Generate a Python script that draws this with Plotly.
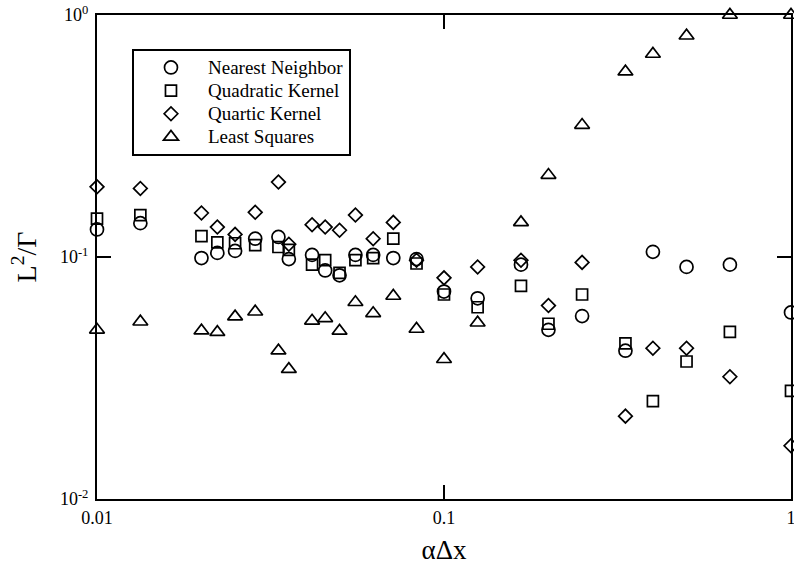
import plotly.graph_objects as go

# alpha*dx values (columns of the data)
alpha_dx = [0.01, 1/75, 1/50, 1/45, 1/40, 1/35, 1/30, 1/28, 1/24, 1/22, 1/20,
            1/18, 1/16, 1/14, 1/12, 1/10, 1/8, 1/6, 1/5, 1/4, 1/3, 0.4, 1/2, 2/3, 1.0]

nearest_neighbor = [0.130, 0.138, 0.099, 0.104, 0.106, 0.119, 0.121, 0.098, 0.102, 0.088, 0.084,
                    0.102, 0.102, 0.099, 0.098, 0.072, 0.0675, 0.093, 0.050, 0.057, 0.041, 0.105,
                    0.091, 0.093, 0.059]
quadratic_kernel = [0.144, 0.149, 0.122, 0.115, 0.114, 0.112, 0.110, 0.107, 0.093, 0.097, 0.086,
                    0.097, 0.099, 0.119, 0.094, 0.070, 0.062, 0.076, 0.053, 0.070, 0.044, 0.0254,
                    0.037, 0.049, 0.028]
quartic_kernel = [0.195, 0.192, 0.152, 0.133, 0.124, 0.153, 0.204, 0.113, 0.136, 0.133, 0.129,
                  0.149, 0.119, 0.139, 0.097, 0.082, 0.091, 0.097, 0.063, 0.095, 0.022, 0.042,
                  0.042, 0.032, 0.0166]
least_squares = [0.050, 0.054, 0.0496, 0.0489, 0.0567, 0.0594, 0.041, 0.0344, 0.0545, 0.0558, 0.0495,
                 0.065, 0.0585, 0.069, 0.0504, 0.0378, 0.0535, 0.139, 0.218, 0.351, 0.583, 0.69,
                 0.821, 1.0, 1.0]

x_tickvals = [0.01, 0.1, 1]
x_ticktext = ["0.01", "0.1", "1"]
y_tickvals = [0.01, 0.1, 1]
y_ticktext = ["10<sup>-2</sup>", "10<sup>-1</sup>", "10<sup>0</sup>"]
minor_vals = [m * d for d in (0.01, 0.1) for m in range(2, 10)]

series = [
    ("Nearest Neighbor", nearest_neighbor, "circle-open", 13),
    ("Quadratic Kernel", quadratic_kernel, "square-open", 11),
    ("Quartic Kernel", quartic_kernel, "diamond-open", 10.5),
    ("Least Squares", least_squares, "triangle-up-open", 13),
]

SERIF = "Liberation Serif, Times New Roman, serif"

fig = go.Figure()
for name, ys, sym, sz in series:
    fig.add_trace(go.Scatter(
        x=alpha_dx, y=ys, mode="markers", cliponaxis=False,
        name="<span style='font-size:19px'>" + name + "</span>",
        marker=dict(symbol=sym, size=sz, color="black", line=dict(color="black", width=1.7)),
    ))

major_common = dict(
    type="log", range=[-2, 0], showgrid=False, zeroline=False, showline=True, linecolor="black",
    linewidth=2, mirror="ticks", ticks="inside", ticklen=14, tickwidth=2, tickcolor="black",
    tickfont=dict(family=SERIF, size=18, color="black"), tickmode="array",
    ticklabeloverflow="allow",
)
minor_common = dict(
    type="log", range=[-2, 0], showgrid=False, zeroline=False, showline=True, linecolor="black",
    linewidth=2, mirror="ticks", ticks="inside", ticklen=7, tickwidth=2, tickcolor="black",
    tickmode="array", tickvals=minor_vals, showticklabels=False,
)

fig.update_layout(
    xaxis=dict(tickvals=x_tickvals, ticktext=x_ticktext, ticklabelstandoff=1,
               title=dict(text="αΔx", font=dict(family=SERIF, size=27, color="black"), standoff=18),
               **major_common),
    yaxis=dict(tickvals=y_tickvals, ticktext=y_ticktext, ticklabelstandoff=3,
               title=dict(text="L<sup>2</sup>/Γ", font=dict(family=SERIF, size=28, color="black"), standoff=15),
               **major_common),
    xaxis2=dict(overlaying="x", anchor="y", side="bottom", **minor_common),
    yaxis2=dict(overlaying="y", anchor="x", side="left", **minor_common),
)

fig.update_layout(
    width=794, height=565,
    margin=dict(l=97, r=3, t=15, b=66, autoexpand=False),
    paper_bgcolor="white", plot_bgcolor="white",
    font=dict(family=SERIF, color="black"),
    legend=dict(x=0.0504, y=0.93, xanchor="left", yanchor="top",
                bgcolor="white", bordercolor="black", borderwidth=2,
                font=dict(family=SERIF, size=15.5, color="black"),
                itemwidth=64, tracegroupgap=0),
    showlegend=True,
)

fig.write_html(
    "out.html",
    config={"displayModeBar": False},
    post_script="document.body.style.margin='0';document.body.style.overflow='hidden';",
)
